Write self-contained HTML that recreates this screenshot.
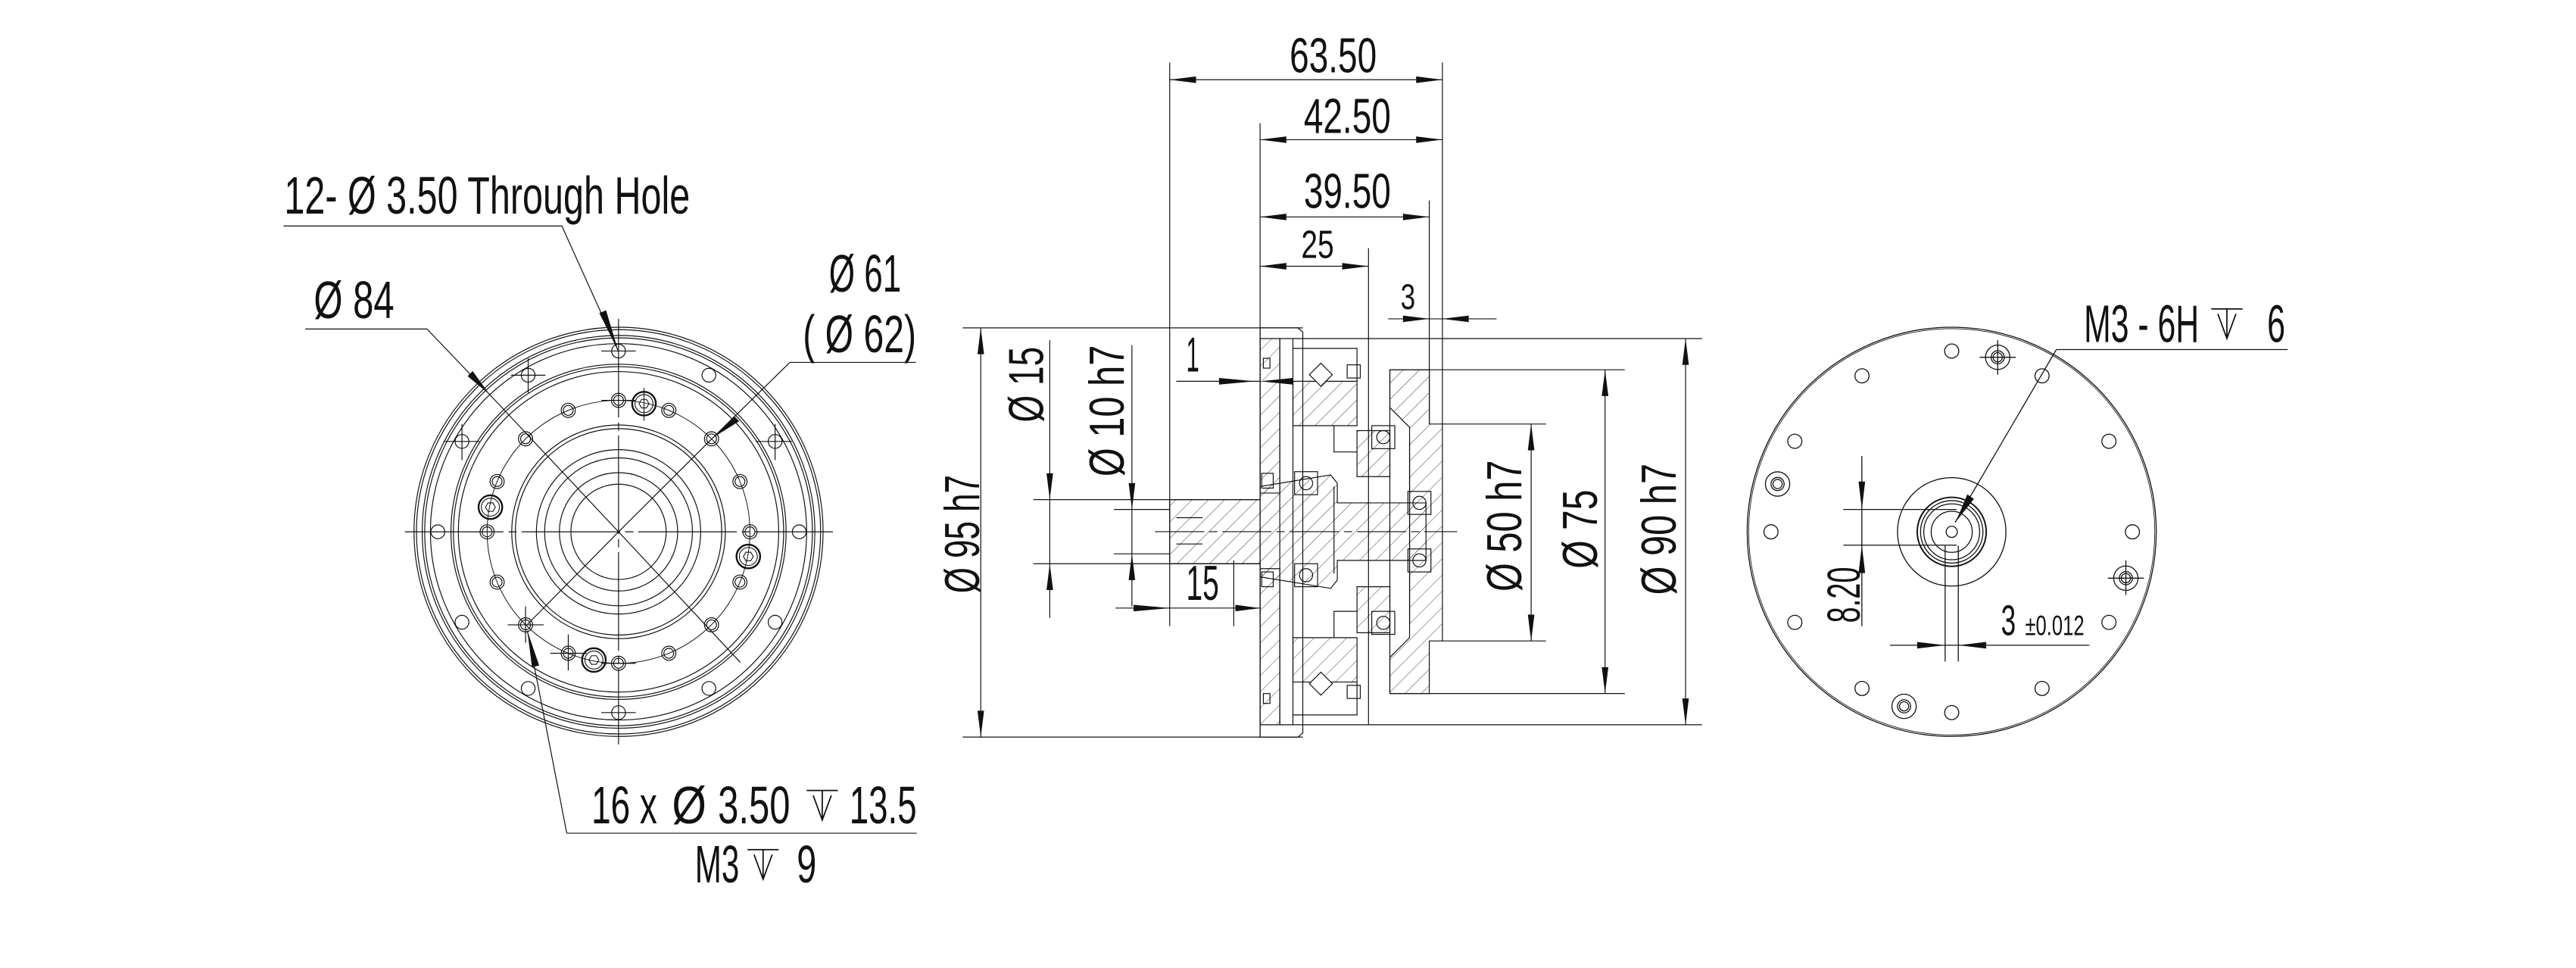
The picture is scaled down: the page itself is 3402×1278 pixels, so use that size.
<!DOCTYPE html>
<html><head><meta charset="utf-8"><style>
html,body{margin:0;padding:0;background:#fff;}
svg{display:block}
text{font-family:"Liberation Sans","DejaVu Sans",sans-serif;fill:#111;}
</style></head><body>
<svg xmlns="http://www.w3.org/2000/svg" width="3402" height="1278" viewBox="0 0 1568 589" preserveAspectRatio="none">
<defs>
<pattern id="h" patternUnits="userSpaceOnUse" width="7" height="7" patternTransform="rotate(45)">
<line x1="0" y1="0" x2="0" y2="7" stroke="#222" stroke-width="0.4"/>
</pattern>
</defs>
<rect width="1568" height="589" fill="#fff"/>
<g fill="none" stroke="#111" stroke-width="0.55">
<!-- ============ LEFT VIEW ============ -->
<circle cx="376.5" cy="323.6" r="124.5"/>
<circle cx="376.5" cy="323.6" r="123"/>
<circle cx="376.5" cy="323.6" r="119.5"/>
<circle cx="376.5" cy="323.6" r="118"/>
<circle cx="376.5" cy="323.6" r="114.5"/>
<circle cx="376.5" cy="323.6" r="102"/>
<circle cx="376.5" cy="323.6" r="100.5"/>
<circle cx="376.5" cy="323.6" r="97.5"/>
<circle cx="376.5" cy="323.6" r="80" stroke-width="0.45"/>
<circle cx="376.5" cy="323.6" r="65"/>
<circle cx="376.5" cy="323.6" r="62.8"/>
<circle cx="376.5" cy="323.6" r="50"/>
<circle cx="376.5" cy="323.6" r="45"/>
<circle cx="376.5" cy="323.6" r="36"/>
<circle cx="376.5" cy="323.6" r="29"/>
<line x1="246.5" y1="323.6" x2="507" y2="323.6" stroke-dasharray="60 3 5 3"/>
<line x1="376.5" y1="194" x2="376.5" y2="453" stroke-dasharray="60 3 5 3"/>
<g>
<circle cx="486.5" cy="323.6" r="4.2"/><circle cx="471.8" cy="268.6" r="4.2"/><circle cx="431.5" cy="228.3" r="4.2"/>
<circle cx="376.5" cy="213.6" r="4.2"/><circle cx="321.5" cy="228.3" r="4.2"/><circle cx="281.2" cy="268.6" r="4.2"/>
<circle cx="266.5" cy="323.6" r="4.2"/><circle cx="281.2" cy="378.6" r="4.2"/><circle cx="321.5" cy="418.9" r="4.2"/>
<circle cx="376.5" cy="433.6" r="4.2"/><circle cx="431.5" cy="418.9" r="4.2"/><circle cx="471.8" cy="378.6" r="4.2"/>
<path d="M311 228.3h21M321.5 218v21M270 268.6h22M281.2 258v22M460 268.6h22M471.8 258v22M366 213.6h21M366 433.6h21"/>
</g>
<g>
<circle cx="456.5" cy="323.6" r="4.3"/><circle cx="456.5" cy="323.6" r="3"/>
<circle cx="450.4" cy="293" r="4.3"/><circle cx="450.4" cy="293" r="3"/>
<circle cx="433.1" cy="267" r="4.3"/><circle cx="433.1" cy="267" r="3"/>
<circle cx="407.1" cy="249.7" r="4.3"/><circle cx="407.1" cy="249.7" r="3"/>
<circle cx="376.5" cy="243.6" r="4.3"/><circle cx="376.5" cy="243.6" r="3"/>
<circle cx="345.9" cy="249.7" r="4.3"/><circle cx="345.9" cy="249.7" r="3"/>
<circle cx="319.9" cy="267" r="4.3"/><circle cx="319.9" cy="267" r="3"/>
<circle cx="302.6" cy="293" r="4.3"/><circle cx="302.6" cy="293" r="3"/>
<circle cx="296.5" cy="323.6" r="4.3"/><circle cx="296.5" cy="323.6" r="3"/>
<circle cx="302.6" cy="354.2" r="4.3"/><circle cx="302.6" cy="354.2" r="3"/>
<circle cx="319.9" cy="380.2" r="4.3"/><circle cx="319.9" cy="380.2" r="3"/>
<circle cx="345.9" cy="397.5" r="4.3"/><circle cx="345.9" cy="397.5" r="3"/>
<circle cx="376.5" cy="403.6" r="4.3"/><circle cx="376.5" cy="403.6" r="3"/>
<circle cx="407.1" cy="397.5" r="4.3"/><circle cx="407.1" cy="397.5" r="3"/>
<circle cx="433.1" cy="380.2" r="4.3"/><circle cx="433.1" cy="380.2" r="3"/>
<circle cx="450.4" cy="354.2" r="4.3"/><circle cx="450.4" cy="354.2" r="3"/>
<path d="M309 380.2h22M319.9 369v22M335 397.5h22M345.9 386v22M366 243.6h21M366 403.6h21"/>
</g>
<g stroke-width="1.1">
<circle cx="392" cy="245.6" r="7.2"/><circle cx="298.5" cy="308.6" r="7.2"/><circle cx="455.5" cy="338.6" r="7.2"/><circle cx="361.5" cy="401.6" r="7.2"/>
</g>
<g stroke-width="0.5">
<circle cx="392" cy="245.6" r="5.5"/><circle cx="298.5" cy="308.6" r="5.5"/><circle cx="455.5" cy="338.6" r="5.5"/><circle cx="361.5" cy="401.6" r="5.5"/>
<polygon points="395,245.6 393.5,248.2 390.5,248.2 389,245.6 390.5,243 393.5,243"/>
<polygon points="301.5,308.6 300,311.2 297,311.2 295.5,308.6 297,306 300,306"/>
<polygon points="458.5,338.6 457,341.2 454,341.2 452.5,338.6 454,336 457,336"/>
<polygon points="364.5,401.6 363,404.2 360,404.2 358.5,401.6 360,399 363,399"/>
<path d="M392 236v20"/>
</g>
<path d="M172.6 137.5H342L376.3 213.5"/>
<path d="M185.8 200.2H259.9L298 240L376.5 323.6L450.6 403"/>
<path d="M480.8 220.5H557.5M480.8 220.5L434 266.3L376.5 323.6L321 380"/>
<path d="M345 507H558M345 507L321 383.8"/>
</g>
<g fill="#111" stroke="none">
<polygon points="376.3,213.5 364.8,190.5 368.9,188.8"/>
<polygon points="298,240 284.6,228.9 287.7,225.8"/>
<polygon points="434,266.3 446.9,253.2 449.9,256.3"/>
<polygon points="321,383.8 328.2,405 323.8,405.9"/>
</g>
<g font-size="32">
<text x="173" y="130" textLength="247" lengthAdjust="spacingAndGlyphs">12- Ø 3.50 Through Hole</text>
<text x="191" y="193.6" textLength="49" lengthAdjust="spacingAndGlyphs">Ø 84</text>
<text x="504.6" y="177.5" textLength="44" lengthAdjust="spacingAndGlyphs">Ø 61</text>
<text x="488.7" y="214.3" textLength="69" lengthAdjust="spacingAndGlyphs">( Ø 62)</text>
<text x="360" y="501" textLength="40" lengthAdjust="spacingAndGlyphs">16 x</text>
<text x="409" y="501" textLength="21" lengthAdjust="spacingAndGlyphs">Ø</text>
<text x="437" y="501" textLength="44" lengthAdjust="spacingAndGlyphs">3.50</text>
<text x="517" y="501" textLength="41" lengthAdjust="spacingAndGlyphs">13.5</text>
<text x="423" y="537" textLength="27" lengthAdjust="spacingAndGlyphs">M3</text>
<text x="485" y="537" textLength="12" lengthAdjust="spacingAndGlyphs">9</text>
</g>
<g fill="none" stroke="#111" stroke-width="0.8">
<path d="M491 481h19M495 484l5.5 15l5.5-15M500.5 481v18"/>
<path d="M455 517h19M459 520l5.5 15l5.5-15M464.5 517v18"/>
<path d="M1346 188h19M1350 191l5.5 15l5.5-15M1355.5 188v18"/>
</g>

<!-- ============ MIDDLE VIEW ============ -->
<g fill="url(#h)" stroke="#111" stroke-width="0.55">
<polygon points="767,206 779,206 779,300 767,300"/>
<polygon points="767,346 779,346 779,441 767,441"/>
<polygon points="787,232 826,232 826,259 787,259"/>
<polygon points="787,388 826,388 826,415 787,415"/>
<polygon points="846,225 870,225 870,258 878,258 878,390 870,390 870,422 846,422 846,400 858,388 858,260 846,248"/>
<polygon points="712,304 767,304 767,296 810,289 814,294 814,306 868,306 868,341 814,341 814,353 810,358 767,351 767,343 712,343"/>
<polygon points="826,262 846,262 846,290 826,290"/>
<polygon points="826,357 846,357 846,385 826,385"/>
</g>
<g fill="none" stroke="#111" stroke-width="0.55">
<path d="M767 199.5H790L793 202V446L790 448.5H767Z"/>
<path d="M779 206H833V441H779Z"/>
<path d="M787 206V441"/>
<path d="M846 225V422"/>
<path d="M787 212H826V232M787 435H826V415"/>
<path d="M812 259V275H826M812 388V372H826"/>
<rect x="788" y="287" width="14" height="14"/><circle cx="795" cy="294" r="4"/>
<rect x="788" y="343" width="14" height="14"/><circle cx="795" cy="350" r="4"/>
<rect x="835" y="259" width="14" height="14"/><circle cx="842" cy="266" r="4"/>
<rect x="835" y="372" width="14" height="14"/><circle cx="842" cy="379" r="4"/>
<rect x="857" y="299" width="14" height="14"/><circle cx="864" cy="306" r="4"/>
<rect x="857" y="334" width="14" height="14"/><circle cx="864" cy="341" r="4"/>
<polygon points="804,221 811,228 804,235 797,228" fill="#fff"/>
<polygon points="804,409 811,416 804,423 797,416" fill="#fff"/>
<rect x="769" y="218" width="4" height="6"/><rect x="769" y="422" width="4" height="6"/>
<rect x="820" y="222" width="8" height="8"/><rect x="820" y="417" width="8" height="8"/>
<rect x="768" y="288" width="7" height="9"/><rect x="768" y="348" width="7" height="9"/>
<path d="M812 296V349M858 268V380"/>
<path d="M703 323.5H887" stroke-dasharray="30 3 5 3"/>
<path d="M716 315H732M716 331H732"/>
<path d="M712 38V381M878 38V258M767 75V448.5M870 122V258M833 151V206"/>
<path d="M586 199.5H793M586 448.5H793"/>
<path d="M629 304H767M629 343H767M678 310H712M678 337H712"/>
<path d="M833 206H1036M833 441H1036M846 225H989M846 422H989M878 258H941M878 390H941"/>
<path d="M751 341V381"/>
<path d="M712 48.5H878M767 85H878M767 132H870M767 162H833M845 194H911"/>
<path d="M597 199.5V448.5M639 207V376M689 210V369M932 258V390M977 225V422M1026 206V441"/>
<path d="M716 232H767M679 370H767"/>
</g>
<g fill="#111">
<polygon points="712,48.5 728,46.5 728,50.5"/><polygon points="878,48.5 862,46.5 862,50.5"/>
<polygon points="767,85 783,83 783,87"/><polygon points="878,85 862,83 862,87"/>
<polygon points="767,132 783,130 783,134"/><polygon points="870,132 854,130 854,134"/>
<polygon points="767,162 783,160 783,164"/><polygon points="833,162 817,160 817,164"/>
<polygon points="870,194 854,192 854,196"/><polygon points="878,194 894,192 894,196"/>
<polygon points="764,232 742,230 742,234"/><polygon points="767,232 787,230 787,234"/>
<polygon points="712,370 690,368 690,372"/><polygon points="767,370 752,368 752,372"/>
<polygon points="597,199.5 595,215.5 599,215.5"/><polygon points="597,448.5 595,432.5 599,432.5"/>
<polygon points="639,304 637,288 641,288"/><polygon points="639,343 637,359 641,359"/>
<polygon points="689,310 687,294 691,294"/><polygon points="689,337 687,353 691,353"/>
<polygon points="932,258 930,274 934,274"/><polygon points="932,390 930,374 934,374"/>
<polygon points="977,225 975,241 979,241"/><polygon points="977,422 975,406 979,406"/>
<polygon points="1026,206 1024,222 1028,222"/><polygon points="1026,441 1024,425 1028,425"/>
</g>
<g font-size="30">
<text x="785" y="44" textLength="53" lengthAdjust="spacingAndGlyphs">63.50</text>
<text x="793.6" y="81" textLength="53" lengthAdjust="spacingAndGlyphs">42.50</text>
<text x="793.6" y="126.5" textLength="53" lengthAdjust="spacingAndGlyphs">39.50</text>
<text x="792" y="157" font-size="24" textLength="20" lengthAdjust="spacingAndGlyphs">25</text>
<text x="852.5" y="188" font-size="22" textLength="9" lengthAdjust="spacingAndGlyphs">3</text>
<text x="722" y="226" textLength="8" lengthAdjust="spacingAndGlyphs">1</text>
<text x="722" y="365" textLength="20" lengthAdjust="spacingAndGlyphs">15</text>
<text transform="translate(596,325) rotate(-90)" x="-36" y="0" textLength="72" lengthAdjust="spacingAndGlyphs">Ø 95 h7</text>
<text transform="translate(635,234) rotate(-90)" x="-23" y="0" textLength="46" lengthAdjust="spacingAndGlyphs">Ø 15</text>
<text transform="translate(684,250) rotate(-90)" x="-40" y="0" textLength="80" lengthAdjust="spacingAndGlyphs">Ø 10 h7</text>
<text transform="translate(926,320) rotate(-90)" x="-40" y="0" textLength="80" lengthAdjust="spacingAndGlyphs">Ø 50 h7</text>
<text transform="translate(972,322) rotate(-90)" x="-24" y="0" textLength="48" lengthAdjust="spacingAndGlyphs">Ø 75</text>
<text transform="translate(1020,322) rotate(-90)" x="-40" y="0" textLength="80" lengthAdjust="spacingAndGlyphs">Ø 90 h7</text>
</g>

<!-- ============ RIGHT VIEW ============ -->
<g fill="none" stroke="#111" stroke-width="0.6">
<circle cx="1188" cy="323.6" r="124.5"/>
<circle cx="1188" cy="323.6" r="123.6" stroke-width="0.4"/>
<circle cx="1188" cy="323.6" r="33"/>
<circle cx="1188" cy="323.6" r="21" stroke-width="0.9"/>
<circle cx="1188" cy="323.6" r="19"/>
<circle cx="1188" cy="323.6" r="17"/>
<circle cx="1188" cy="323.6" r="12.5"/>
<circle cx="1188" cy="323.6" r="3.4"/>
<g>
<circle cx="1188" cy="213.6" r="4.3"/><circle cx="1133.4" cy="228.7" r="4.3"/><circle cx="1243" cy="228.7" r="4.3"/>
<circle cx="1092.5" cy="268.5" r="4.3"/><circle cx="1283.7" cy="268.5" r="4.3"/><circle cx="1078" cy="323.6" r="4.3"/>
<circle cx="1298" cy="323.6" r="4.3"/><circle cx="1092.5" cy="378.7" r="4.3"/><circle cx="1283.7" cy="378.7" r="4.3"/>
<circle cx="1133.4" cy="418.9" r="4.3"/><circle cx="1243" cy="418.9" r="4.3"/><circle cx="1188" cy="433.6" r="4.3"/>
</g>
<g>
<circle cx="1216" cy="217.4" r="7.4"/><circle cx="1216" cy="217.4" r="4"/><circle cx="1216" cy="217.4" r="2.8"/>
<circle cx="1082" cy="294.5" r="7.4"/><circle cx="1082" cy="294.5" r="4"/><circle cx="1082" cy="294.5" r="2.8"/>
<circle cx="1294" cy="351.8" r="7.4"/><circle cx="1294" cy="351.8" r="4"/><circle cx="1294" cy="351.8" r="2.8"/>
<circle cx="1159" cy="429.8" r="7.4"/><circle cx="1159" cy="429.8" r="4"/><circle cx="1159" cy="429.8" r="2.8"/>
<path d="M1205 217.4h22M1216 207v21M1283 351.8h22M1294 341v21"/>
</g>
<path d="M1251.7 212.7H1392.5M1251.7 212.7L1190 318"/>
<path d="M1122 310H1191M1122 331.7H1191M1133.3 277.5V381"/>
<path d="M1184 332V402.5M1192 332V402.5M1150.5 392.6H1271.8"/>
</g>
<g fill="#111">
<polygon points="1190.5,317.5 1197.5,300.8 1201.5,303.6"/>
<polygon points="1133.3,310 1131.3,293 1135.3,293"/>
<polygon points="1133.3,331.7 1131.3,348.7 1135.3,348.7"/>
<polygon points="1184,392.6 1167,390.6 1167,394.6"/>
<polygon points="1192,392.6 1209,390.6 1209,394.6"/>
</g>
<g font-size="32">
<text x="1268.5" y="208" textLength="70" lengthAdjust="spacingAndGlyphs">M3 - 6H</text>
<text x="1380" y="208" textLength="11" lengthAdjust="spacingAndGlyphs">6</text>
<text transform="translate(1132,362) rotate(-90)" x="-17" y="0" font-size="28" textLength="34" lengthAdjust="spacingAndGlyphs">8.20</text>
<text x="1218" y="386.5" font-size="26" textLength="9" lengthAdjust="spacingAndGlyphs">3</text>
<text x="1232.7" y="386.5" font-size="17" textLength="36" lengthAdjust="spacingAndGlyphs">±0.012</text>
</g>
</svg>
</body></html>
